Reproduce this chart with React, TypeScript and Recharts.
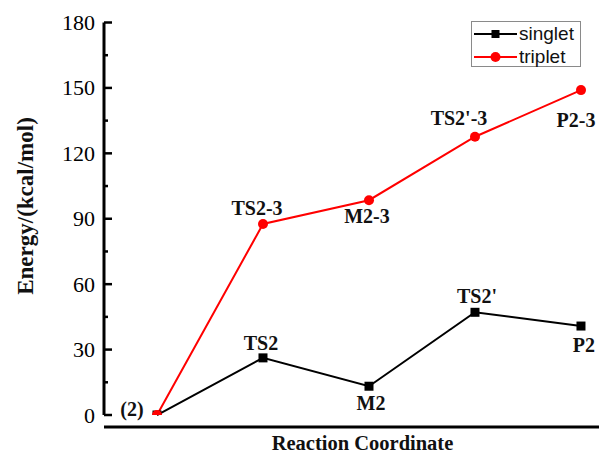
import React from 'react';
import { LineChart, Line, XAxis, YAxis, ReferenceLine, LabelList } from 'recharts';

// ---- data ----
const steps = [0, 1, 2, 3, 4];
const singletLabels = ['(2)', 'TS2', 'M2', "TS2'", 'P2'];
const tripletLabels = ['', 'TS2-3', 'M2-3', "TS2'-3", 'P2-3'];
const singletEnergy = [0, 26.2, 13.2, 47.1, 40.8];
const tripletEnergy = [0, 87.6, 98.5, 127.6, 149.0];
const yTicks = [0, 15, 30, 45, 60, 75, 90, 105, 120, 135, 150, 165, 180];
const yMajorTicks = [0, 30, 60, 90, 120, 150, 180];
const seriesNames = ['singlet', 'triplet'];

const data = steps.map((s, i) => ({
  step: s,
  singlet: singletEnergy[i],
  triplet: tripletEnergy[i],
}));

// ---- styling (label offsets relative to their marker: [dx, baseline dy]) ----
const singletLabelOffsets = [[-25, 1], [-2, -8], [2, 24], [2, -9], [3, 26]];
const tripletLabelOffsets = [[0, 0], [-6, -9], [-2, 23], [-16, -12], [-5, 37]];

const SERIF = '"Liberation Serif", "Times New Roman", serif';
const SANS = '"Liberation Sans", Arial, sans-serif';
const RED = '#ff0000';

const YTick = (props: any) => {
  const { x, y, payload } = props;
  const v = payload.value;
  const major = yMajorTicks.indexOf(v) >= 0;
  return (
    <g>
      <line x1={x} x2={x + (major ? 8 : 4)} y1={y} y2={y} stroke="#000" strokeWidth={2.5} />
      {major && (
        <text x={x - 9} y={y} dy={7.5} textAnchor="end" fontFamily={SERIF} fontSize={22} fill="#000">
          {v}
        </text>
      )}
    </g>
  );
};

const makeLabel = (labels: string[], offsets: number[][], values: number[]) => (props: any) => {
  const { x, y, value } = props;
  let idx = props.index;
  if (idx === undefined || idx === null) idx = values.indexOf(value);
  const text = labels[idx];
  if (!text) return null;
  const [dx, dy] = offsets[idx];
  return (
    <text x={x + dx} y={y + dy} textAnchor="middle" fontFamily={SERIF} fontWeight="bold" fontSize={20} fill="#111">
      {text}
    </text>
  );
};

const SquareDot = (props: any) => {
  const { cx, cy, value } = props;
  if (cx == null || cy == null) return null;
  const v = Array.isArray(value) ? value[1] : value;
  const h = v === 0 ? 4.5 : 9;
  return <rect x={cx - 4.5} y={cy - 4.5} width={9} height={h} fill="#000" />;
};

const CircleDot = (props: any) => {
  const { cx, cy, value } = props;
  if (cx == null || cy == null) return null;
  const v = Array.isArray(value) ? value[1] : value;
  if (v === 0) {
    return <path d={`M${cx - 5},${cy} A5,5 0 0 1 ${cx + 5},${cy} Z`} fill={RED} />;
  }
  return <circle cx={cx} cy={cy} r={5} fill={RED} />;
};

const YAxisTitle = () => (
  <text
    x={33}
    y={206}
    transform="rotate(-90 33 206)"
    textAnchor="middle"
    fontFamily={SERIF}
    fontWeight="bold"
    fontSize={23}
    fill="#111"
  >
    Energy/(kcal/mol)
  </text>
);

const XAxisTitle = (props: any) => {
  const vb = props.viewBox || { x: 104, y: 427, width: 495, height: 27 };
  return (
    <text
      x={vb.x + vb.width / 2 + 11}
      y={vb.y + vb.height - 4}
      textAnchor="middle"
      fontFamily={SERIF}
      fontWeight="bold"
      fontSize={20.5}
      fill="#111"
    >
      Reaction Coordinate
    </text>
  );
};

const LegendBox = () => (
  <div
    style={{
      position: 'absolute',
      left: 471,
      top: 21,
      width: 110,
      height: 46,
      border: '1px solid #8a8a8a',
      background: '#fff',
      boxSizing: 'border-box',
    }}
  >
    {seriesNames.map((name, i) => (
      <div key={name} style={{ position: 'absolute', left: 0, top: i === 0 ? 1 : 24, height: 22, width: 108 }}>
        <svg width={46} height={22} style={{ position: 'absolute', left: 1, top: 0 }}>
          <line x1={1} x2={44} y1={11} y2={11} stroke={i === 0 ? '#000' : RED} strokeWidth={2} />
          {i === 0 ? (
            <rect x={18.5} y={7} width={8} height={8} fill="#000" />
          ) : (
            <circle cx={22.5} cy={11} r={5} fill={RED} />
          )}
        </svg>
        <span
          style={{
            position: 'absolute',
            left: 47,
            top: 0,
            lineHeight: '22px',
            fontFamily: SANS,
            fontSize: 19,
            color: '#111',
            whiteSpace: 'nowrap',
          }}
        >
          {name}
        </span>
      </div>
    ))}
  </div>
);

export default function App() {
  return (
    <div style={{ position: 'absolute', left: 0, top: 0, width: 599, height: 454, background: '#fff' }}>
      <LineChart width={599} height={454} data={data} margin={{ top: 22.5, right: 0, bottom: 0, left: 0 }}>
        <XAxis
          type="number"
          dataKey="step"
          domain={[-0.5, 4.17]}
          allowDataOverflow
          tick={false}
          tickLine={false}
          axisLine={{ stroke: '#000', strokeWidth: 3 }}
          height={27}
          label={<XAxisTitle />}
        />
        <YAxis
          type="number"
          domain={[-5.5, 180]}
          allowDataOverflow
          ticks={yTicks}
          interval={0}
          width={104}
          tickSize={0}
          tickMargin={0}
          tickLine={false}
          axisLine={false}
          tick={<YTick />}
          label={<YAxisTitle />}
        />
        <ReferenceLine
          segment={[
            { x: -0.5, y: 0 },
            { x: -0.5, y: 180 },
          ]}
          stroke="#000"
          strokeWidth={3}
          ifOverflow="visible"
        />
        <Line
          type="linear"
          dataKey="singlet"
          stroke="#000"
          strokeWidth={2}
          dot={<SquareDot />}
          activeDot={false}
          isAnimationActive={false}
        >
          <LabelList dataKey="singlet" content={makeLabel(singletLabels, singletLabelOffsets, singletEnergy)} />
        </Line>
        <Line
          type="linear"
          dataKey="triplet"
          stroke={RED}
          strokeWidth={2}
          dot={<CircleDot />}
          activeDot={false}
          isAnimationActive={false}
        >
          <LabelList dataKey="triplet" content={makeLabel(tripletLabels, tripletLabelOffsets, tripletEnergy)} />
        </Line>
      </LineChart>
      <LegendBox />
    </div>
  );
}
